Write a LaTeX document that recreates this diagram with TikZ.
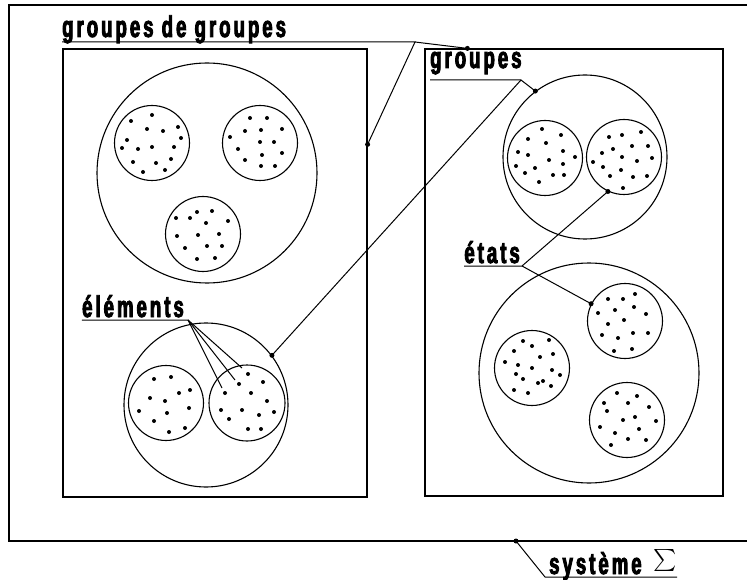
\documentclass[tikz,border=0pt]{standalone}
\usepackage{fontspec}
\usepackage{graphicx}
\usetikzlibrary{calc}
\newfontfamily\lblfont{Liberation Sans}[FakeStretch=0.62,LetterSpace=10,FakeBold=3]
\newcommand\speckle[2]{\foreach \a/\b in {#2} \fill ($(#1)+(\a,\b)$) circle (2.0);}
\begin{document}
\begin{tikzpicture}[x=1pt,y=-1pt,
  frame/.style={draw, line width=1.2pt},
  box/.style={draw, line width=1.2pt, rectangle, inner sep=0pt},
  ring/.style={circle, draw, line width=1.1pt, inner sep=0pt},
  lbl/.style={font=\lblfont\bfseries\fontsize{30}{32}\selectfont, inner sep=0pt},
  lead/.style={line width=1pt},
  pin/.style={circle, fill, inner sep=0pt, minimum size=5pt}
]
\useasboundingbox (0,0) rectangle (747,580);

% system frame (open on the right)
\draw[frame] (747,5) -- (9,5) -- (9,541) -- (747,541);

% boxes
\node[box, minimum width=304pt, minimum height=448pt] (boxL) at (215,273) {};
\node[box, minimum width=298pt, minimum height=447pt] (boxR) at (574,272.5) {};

% big circles
\node[ring, minimum size=220pt] (ggA) at (207,173) {};
\node[ring, minimum size=164pt] (elB) at (206,405) {};
\node[ring, minimum size=164pt] (grC) at (585,157) {};
\node[ring, minimum size=220pt] (grD) at (589,373) {};

% small circles
\node[ring, minimum size=75pt] (a1) at (152,143) {};
\node[ring, minimum size=75pt] (a2) at (260,143) {};
\node[ring, minimum size=75pt] (a3) at (203,234) {};
\node[ring, minimum size=75pt] (b1) at (166,403) {};
\node[ring, minimum size=76pt] (b2) at (247,403) {};
\node[ring, minimum size=75pt] (c1) at (545,158) {};
\node[ring, minimum size=75pt] (c2) at (624,157) {};
\node[ring, minimum size=75pt] (d1) at (625,321) {};
\node[ring, minimum size=75pt] (d2) at (532,368) {};
\node[ring, minimum size=75pt] (d3) at (627,420) {};

% dots
\speckle{a1}{0/-28,-21/-22,-5/-14,11/-12,26/-16,29/-5,-25/-3,-30/5,-14/6,0/4,22/4,19/16,-19/19,4/20,-9/29,13/27}
\speckle{a2}{-10/-25,7/-25,-15/-12,1/-13,22/-14,-30/-6,0/-1,14/-1,-22/6,2/12,22/10,-15/17,1/23,15/23}
\speckle{a3}{-6/-22,9/-23,-27/-16,-13/-16,3/-11,25/-13,-26/2,-5/1,16/0,-18/14,4/12,19/12,-6/25,12/24}
\speckle{b1}{-12/-24,5/-26,13/-10,24/-13,-16/-5,-1/-2,-27/8,1/10,23/5,-12/18,3/29,19/25}
\speckle{b2}{1/-29,16/-21,-22/-10,-8/-19,4/-10,20/-2,-26/7,-18/16,-5/7,12/12,27/9,1/26,14/26}
\speckle{c1}{-3/-29,-17/-19,16/-23,1/-15,18/-7,-27/-6,-17/-3,30/-1,4/2,18/6,-29/8,-10/10,-20/15,8/17,19/17,-6/24}
\speckle{c2}{17/-25,-15/-20,-2/-22,8/-11,24/-11,-11/-8,-22/-4,-2/0,28/1,-31/5,13/4,-21/10,-3/13,-14/19,9/20,23/19,-1/31}
\speckle{d1}{-17/-22,-2/-22,10/-27,-10/-11,9/-14,-27/-8,21/-7,-1/-1,-17/3,-23/14,-7/17,8/12,23/12,-11/30,7/28}
\speckle{d2}{-9/-27,0/-22,17/-28,-18/-17,21/-14,8/-11,-27/-6,-14/-3,0/0,20/2,-16/6,28/7,-9/11,6/15,11/13,19/18,-18/22,-4/25}
\speckle{d3}{-10/-27,10/-24,-23/-17,1/-17,22/-13,-20/-9,-4/0,8/-3,29/1,-27/7,12/9,-12/13,1/19,19/20,-16/25}

% labels
\node[lbl, anchor=base west] (tGG) at (62,37) {groupes de groupes};
\node[lbl, anchor=base west] (tGr) at (430,68) {groupes};
\node[lbl, anchor=base east] (tEl) at (184,317) {éléments};
\node[lbl, anchor=base east] (tEt) at (520,263) {états};
\node[lbl, anchor=base west] (tSy) at (549,574) {système\hspace{12pt}\scalebox{2.2}{$\sum$}};

% knees and free ends
\coordinate (kGG) at (415,42);
\coordinate (kGr) at (521,80);
\coordinate (kEl) at (188,320);
\coordinate (kEt) at (522,266);
\coordinate (kSy) at (545,577);
\path (boxL.north east) ++(0,96) coordinate (pL);
\path (boxR.north west) ++(43,0) coordinate (pR);
\coordinate (pS) at (516,541);
\path (b2.center) ++(-25,-15) coordinate (e1);
\path (b2.center) ++(-12,-23) coordinate (e2);
\path (b2.center) ++(-5,-35) coordinate (e3);

% leaders
\draw[lead] ([yshift=-5pt]tGG.base west) -- (kGG) -- (pL);
\draw[lead] (kGG) -- (pR);
\draw[lead] ([yshift=-12pt]tGr.base west) -- (kGr) -- (grC.127);
\draw[lead] (kGr) -- (elB.37);
\draw[lead] ([yshift=-3pt]tEl.base west) -- (kEl) -- (e1);
\draw[lead] (kEl) -- (e2);
\draw[lead] (kEl) -- (e3);
\draw[lead] ([yshift=-3pt]tEt.base west) -- (kEt) -- (c2.245);
\draw[lead] (kEt) -- (d1.153);
\draw[lead] (pS) -- (kSy) -- ([yshift=-3pt]tSy.base east);

% pins
\node[pin] at (pL) {};
\node[pin] at (pR) {};
\node[pin] at (grC.127) {};
\node[pin] at (elB.37) {};
\node[pin] at (c2.245) {};
\node[pin] at (d1.153) {};
\node[pin] at (pS) {};
\end{tikzpicture}
\end{document}
